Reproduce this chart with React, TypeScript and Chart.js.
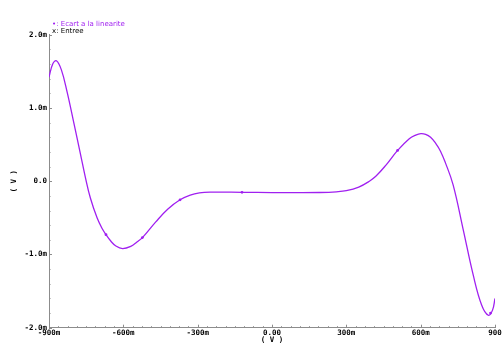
import React, { useEffect, useRef } from "react";
import { Chart, registerables } from "chart.js";

Chart.register(...registerables);

// Input voltage (mV) and deviation from linearity (mV)
const inputMv = [
  -900, -885, -870, -850, -827, -800, -773, -753, -733, -706, -685, -670, -650,
  -630, -603, -570, -545, -523, -469, -420, -371, -330, -293, -250, -120, 0,
  100, 192, 260, 300, 350, 393, 420, 460, 507, 554, 580, 601, 620, 640, 660,
  680, 700, 731, 771, 812, 846, 873, 890, 900,
];
const deviationMv = [
  1.42, 1.6, 1.645, 1.52, 1.22, 0.8, 0.37, 0.05, -0.23, -0.5, -0.65, -0.73,
  -0.82, -0.885, -0.92, -0.89, -0.83, -0.77, -0.555, -0.38, -0.254, -0.19,
  -0.16, -0.15, -0.152, -0.155, -0.156, -0.154, -0.145, -0.13, -0.08, 0.0,
  0.07, 0.22, 0.42, 0.58, 0.63, 0.65, 0.64, 0.6, 0.52, 0.41, 0.25, -0.05,
  -0.65, -1.28, -1.69, -1.83, -1.76, -1.6,
];
// Marker positions on the trace
const markerInputMv = [-670, -523, -371, -121, 507, 882];
const markerDeviationMv = [-0.73, -0.77, -0.254, -0.152, 0.42, -1.8];

const xTickValues = [-900, -600, -300, 0, 300, 600, 900];
const xTickLabels = ["-900m", "-600m", "-300m", "0.00", "300m", "600m", "900"];
const yTickValues = [-2, -1, 0, 1, 2];
const yTickLabels = ["-2.0m", "-1.0m", "0.0", "1.0m", "2.0m"];

const legendSymbols = ["\u2022:", "x:"];
const legendLabels = ["Ecart a la linearite", "Entree"];
const axisTitle = "( V )";

const PURPLE = "#a020f0";
const AXIS = "#8c8c8c";
const TICK_FONT = "bold 7.5px 'DejaVu Sans Mono'";

const decorPlugin = {
  id: "decor",
  afterDraw(chart: any) {
    const { ctx, chartArea, scales } = chart;
    const xs = scales.x;
    const ys = scales.y;
    ctx.save();
    ctx.strokeStyle = AXIS;
    ctx.lineWidth = 1;
    // y ticks (inward)
    for (let i = 0; i <= 20; i++) {
      const v = -2 + i * 0.2;
      const py = Math.round(ys.getPixelForValue(v)) + 0.5;
      const major = i % 5 === 0;
      ctx.beginPath();
      ctx.moveTo(chartArea.left, py);
      ctx.lineTo(chartArea.left + (major ? 3 : 1.5), py);
      ctx.stroke();
    }
    // x ticks (inward)
    for (let i = 0; i <= 48; i++) {
      const v = -900 + i * 37.5;
      const px = Math.round(xs.getPixelForValue(v)) + 0.5;
      const major = i % 8 === 0;
      ctx.beginPath();
      ctx.moveTo(px, chartArea.bottom);
      ctx.lineTo(px, chartArea.bottom - (major ? 3 : 1.5));
      ctx.stroke();
    }
    // axis titles
    ctx.fillStyle = "#000";
    ctx.font = TICK_FONT;
    ctx.textAlign = "center";
    ctx.textBaseline = "middle";
    ctx.fillText(axisTitle, xs.getPixelForValue(0), 340.5);
    ctx.save();
    ctx.translate(14, ys.getPixelForValue(0));
    ctx.rotate(-Math.PI / 2);
    ctx.fillText(axisTitle, 0, 0);
    ctx.restore();
    // legend
    ctx.textAlign = "left";
    ctx.font = "7px 'DejaVu Sans'";
    ctx.fillStyle = PURPLE;
    ctx.fillText(legendSymbols[0] + " " + legendLabels[0], 52, 24);
    ctx.fillStyle = "#000";
    ctx.fillText(legendSymbols[1] + " " + legendLabels[1], 52, 31.5);
    ctx.restore();
  },
};

export default function App() {
  const canvasRef = useRef<HTMLCanvasElement | null>(null);

  useEffect(() => {
    document.body.style.margin = "0";
    const canvas = canvasRef.current;
    if (!canvas) return;
    const chart = new Chart(canvas, {
      type: "scatter",
      data: {
        datasets: [
          {
            label: legendLabels[0],
            data: inputMv.map((x, i) => ({ x, y: deviationMv[i] })),
            showLine: true,
            borderColor: PURPLE,
            borderWidth: 1.3,
            pointRadius: 0,
            tension: 0.4,
          },
          {
            label: "markers",
            data: markerInputMv.map((x, i) => ({ x, y: markerDeviationMv[i] })),
            showLine: false,
            pointRadius: 1.4,
            pointBackgroundColor: PURPLE,
            pointBorderColor: PURPLE,
            pointBorderWidth: 0,
          },
        ],
      },
      options: {
        animation: false,
        responsive: false,
        maintainAspectRatio: false,
        devicePixelRatio: 1,
        layout: { padding: { top: 34.7, right: 7, left: 0, bottom: 0 } },
        plugins: {
          legend: { display: false },
          tooltip: { enabled: false },
        },
        scales: {
          x: {
            type: "linear",
            min: -900,
            max: 900,
            afterBuildTicks: (s: any) => {
              s.ticks = xTickValues.map((v) => ({ value: v }));
            },
            afterFit: (s: any) => {
              s.height = 346 - 327.7;
              s.paddingLeft = 0;
              s.paddingRight = 0;
            },
            ticks: {
              autoSkip: false,
              maxRotation: 0,
              padding: 1,
              color: "#000",
              font: { family: "'DejaVu Sans Mono'", size: 7.5, weight: "bold" },
              callback: (v: any) => {
                const i = xTickValues.indexOf(Number(v));
                return i >= 0 ? xTickLabels[i] : "";
              },
            },
            grid: { display: false, drawTicks: false },
            border: { display: true, color: AXIS, width: 1 },
          },
          y: {
            type: "linear",
            min: -2,
            max: 2,
            afterBuildTicks: (s: any) => {
              s.ticks = yTickValues.map((v) => ({ value: v }));
            },
            afterFit: (s: any) => {
              s.width = 49;
              s.paddingTop = 0;
              s.paddingBottom = 0;
            },
            ticks: {
              autoSkip: false,
              padding: 2,
              color: "#000",
              font: { family: "'DejaVu Sans Mono'", size: 7.5, weight: "bold" },
              callback: (v: any) => {
                const i = yTickValues.indexOf(Number(v));
                return i >= 0 ? yTickLabels[i] : "";
              },
            },
            grid: { display: false, drawTicks: false },
            border: { display: true, color: AXIS, width: 1 },
          },
        },
      },
      plugins: [decorPlugin],
    } as any);
    return () => chart.destroy();
  }, []);

  return (
    <div style={{ position: "absolute", left: 0, top: 0, width: 502, height: 346, background: "#fff" }}>
      <canvas ref={canvasRef} width={502} height={346} style={{ width: 502, height: 346, display: "block" }} />
    </div>
  );
}
